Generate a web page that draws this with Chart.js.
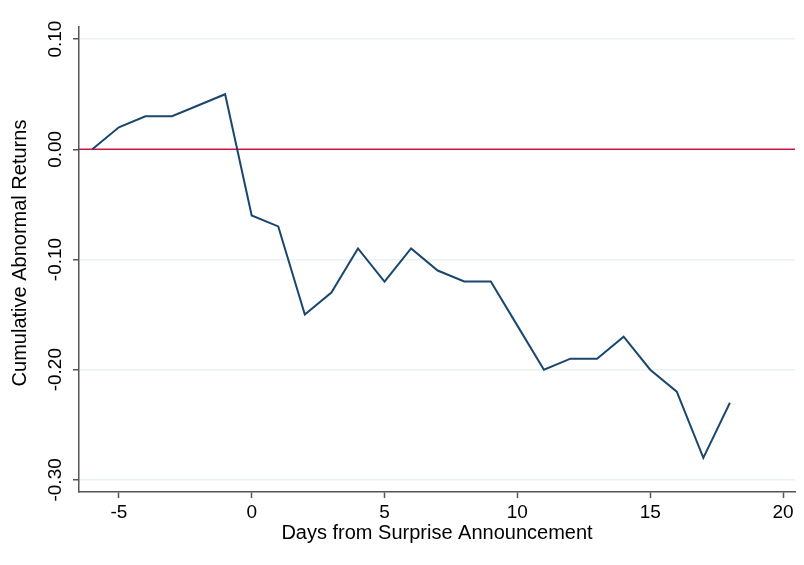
<!DOCTYPE html>
<html>
<head>
<meta charset="utf-8">
<script src="https://cdn.jsdelivr.net/npm/chart.js@4"></script>
<style>
  html, body { margin: 0; padding: 0; background: #fff; }
  #wrap { width: 804px; height: 565px; }
</style>
</head>
<body>
<div id="wrap"><canvas id="carChart" width="804" height="565"></canvas></div>
<script>
// days relative to announcement and the cumulative abnormal returns
const days = [-6, -5, -4, -3, -2, -1, 0, 1, 2, 3, 4, 5, 6, 7, 8, 9, 10, 11, 12, 13, 14, 15, 16, 17, 18];
const car = [0.00, 0.02, 0.03, 0.03, 0.04, 0.05, -0.06, -0.07, -0.15, -0.13, -0.09, -0.12, -0.09, -0.11, -0.12, -0.12, -0.16, -0.20, -0.19, -0.19, -0.17, -0.20, -0.22, -0.28, -0.23];
const xTicks = [-5, 0, 5, 10, 15, 20];
const yTicks = [-0.3, -0.2, -0.1, 0, 0.1];
const X_MIN = -6.5, X_MAX = 20.45;
const Y_MIN = -0.311, Y_MAX = 0.111;

const FONT = "'Liberation Sans', Arial, Helvetica, sans-serif";

// y tick labels and title are rotated in the original, draw them by hand
const rotatedYLabels = {
    id: "rotatedYLabels",
    afterDraw(chart) {
        const ctx = chart.ctx;
        const y = chart.scales.y;
        ctx.save();
        ctx.fillStyle = "#000";
        ctx.textAlign = "center";
        ctx.textBaseline = "middle";
        ctx.font = "19px " + FONT;
        yTicks.forEach(v => {
            ctx.save();
            ctx.translate(56, y.getPixelForValue(v));
            ctx.rotate(-Math.PI / 2);
            ctx.fillText(v.toFixed(2), 0, 0);
            ctx.restore();
        });
        ctx.font = "20px " + FONT;
        ctx.translate(20, 253);
        ctx.rotate(-Math.PI / 2);
        ctx.fillText("Cumulative Abnormal Returns", 0, 0);
        ctx.restore();
    }
};

const ctx = document.getElementById("carChart").getContext("2d");
new Chart(ctx, {
    type: "line",
    data: {
        datasets: [{
            label: "CAR",
            data: days.map((d, i) => ({ x: d, y: car[i] })),
            borderColor: "#1a476f",
            borderWidth: 2,
            pointRadius: 0,
            tension: 0,
            order: 1
        }, {
            label: "zero",
            data: [{ x: X_MIN, y: 0 }, { x: X_MAX, y: 0 }],
            borderColor: "#cc1840",
            borderWidth: 1.6,
            pointRadius: 0,
            order: 2
        }]
    },
    options: {
        responsive: false,
        animation: false,
        layout: { padding: { top: 27, right: 9, left: 0, bottom: 0 } },
        plugins: { legend: { display: false }, tooltip: { enabled: false } },
        scales: {
            x: {
                type: "linear",
                min: X_MIN,
                max: X_MAX,
                afterBuildTicks: s => { s.ticks = xTicks.map(v => ({ value: v })); },
                afterFit: s => { s.height = 73; },
                border: { color: "#555", width: 1.5 },
                grid: { drawOnChartArea: false, tickLength: 6, tickColor: "#555", tickWidth: 1.5 },
                ticks: { color: "#000", font: { family: FONT, size: 19 }, padding: 3, maxRotation: 0 },
                title: { display: true, text: "Days from Surprise Announcement", color: "#000",
                         font: { family: FONT, size: 20 }, padding: { top: 0, bottom: 20 } }
            },
            y: {
                min: Y_MIN,
                max: Y_MAX,
                afterBuildTicks: s => { s.ticks = yTicks.map(v => ({ value: v })); },
                afterFit: s => { s.width = 79; },
                border: { color: "#555", width: 1.5 },
                grid: { color: "#eaf2f3", lineWidth: 1.5, tickLength: 6, tickColor: "#555", tickWidth: 1.5 },
                ticks: { display: false }
            }
        }
    },
    plugins: [rotatedYLabels]
});
</script>
</body>
</html>
